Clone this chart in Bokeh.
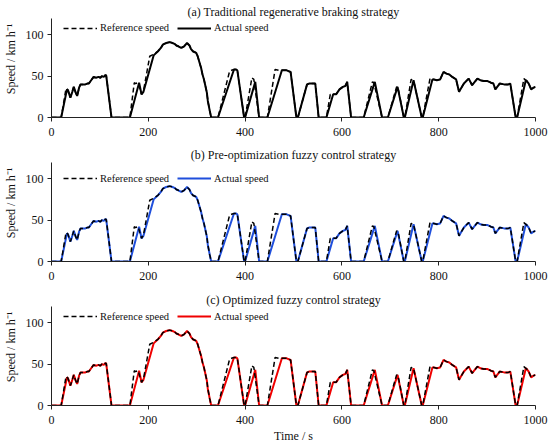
from bokeh.plotting import figure
from bokeh.layouts import column
from bokeh.models import Range1d, FixedTicker, Label, Legend, LegendItem
from bokeh.embed import file_html
from bokeh.resources import INLINE

# ---------------- data ----------------
ref_time = [0, 20, 30, 34, 39, 43, 46, 50, 53, 57, 60, 66, 70, 74, 77, 82, 87, 92, 97, 101, 104, 108, 111, 113, 124,
            162, 171, 174, 179, 186, 190, 203, 210, 220, 226, 230, 237, 244, 250, 254, 258, 262, 268, 274, 280, 285,
            288, 292, 299, 302, 305, 309, 312, 315, 318, 321, 323, 327, 330, 344, 368, 372, 377, 381, 384, 398, 400,
            414, 418, 429, 446, 462, 470, 486, 494, 506, 509, 528, 533, 545, 552, 568, 576, 588, 595, 602, 607, 611,
            619, 645, 663, 666, 683, 695, 713, 716, 728, 730, 743, 748, 765, 767, 782, 790, 796, 803, 810, 816, 822,
            828, 836, 842, 852, 862, 869, 880, 886, 893, 901, 908, 913, 917, 926, 935, 944, 948, 959, 962, 976, 982,
            986, 991, 996, 1000]
ref_speed = [0, 0, 35, 33, 24, 31, 37, 30, 26, 36, 40, 40, 40, 41, 41, 45, 49, 48, 49, 48, 50, 49, 51, 51, 0,
             0, 42, 41, 42, 28, 32, 74, 76, 80, 84, 88, 90, 91, 90, 89, 87, 86, 84, 86, 90, 87,
             83, 80, 78, 74, 68, 60, 52, 46, 38, 30, 20, 8, 0, 0, 56, 57, 58, 58, 57, 0, 0,
             48, 46, 0, 0, 58, 57, 57, 55, 0, 0, 40, 41, 41, 0, 0, 28, 28, 34, 37, 38, 43,
             0, 0, 43, 42, 0, 0, 37, 36, 0, 0, 46, 45, 0, 0, 47, 46, 45, 46, 55, 53, 52,
             49, 46, 31, 41, 47, 39, 47, 45, 44, 44, 42, 41, 34, 41, 40, 40, 41, 0, 0, 47, 44,
             41, 34, 36, 37]

act_time = [0, 20, 32, 34, 39, 43, 46, 50, 53, 57, 60, 66, 70, 74, 77, 82, 87, 92, 97, 101, 104, 108, 111, 113, 124,
            162, 181, 186, 190, 211, 220, 226, 230, 237, 244, 250, 254, 258, 262, 268, 274, 280, 285,
            288, 292, 299, 302, 305, 309, 312, 315, 318, 321, 323, 327, 330, 344, 377, 381, 384, 398, 400,
            421, 429, 446, 476, 486, 494, 506, 509, 528, 533, 545, 552, 568, 582, 588, 595, 602, 607, 611,
            619, 645, 668, 683, 695, 715, 728, 730, 748, 765, 767, 787, 790, 796, 803, 810, 816, 822,
            828, 836, 842, 852, 862, 869, 880, 886, 893, 901, 908, 913, 917, 926, 935, 944, 948, 959, 962, 980, 982,
            986, 991, 996, 1000]
act_speed = [0, 0, 34, 33, 24, 31, 37, 30, 26, 36, 40, 40, 40, 41, 41, 45, 49, 48, 49, 48, 50, 49, 51, 51, 0,
             0, 42, 28, 31, 75, 80, 84, 88, 90, 91, 90, 89, 87, 86, 84, 86, 90, 87,
             83, 80, 78, 74, 68, 60, 52, 46, 38, 30, 20, 8, 0, 0, 58, 58, 57, 0, 0,
             43, 0, 0, 57, 57, 55, 0, 0, 40, 41, 41, 0, 0, 28, 28, 34, 37, 38, 43,
             0, 0, 43, 0, 0, 37, 0, 0, 45, 0, 0, 46, 46, 45, 46, 55, 53, 52,
             49, 46, 31, 41, 47, 39, 47, 45, 44, 44, 42, 41, 34, 41, 40, 40, 41, 0, 0, 45, 44,
             41, 34, 36, 37]

panel_titles = ["(a) Traditional regenerative braking strategy",
                "(b) Pre-optimization fuzzy control strategy",
                "(c) Optimized fuzzy control strategy"]
actual_colors = ["#000000", "#1f4fdc", "#f00000"]
legend_labels = ["Reference speed", "Actual speed"]
x_ticks = [0, 200, 400, 600, 800, 1000]
y_ticks = [0, 50, 100]
x_label = "Time / s"
y_label = "Speed / km h\u207b\u00b9"

FONT = "Liberation Serif"
PX_PER_UNIT = 0.828
AXIS_COLOR = "#222222"
TEXT_COLOR = "#111111"


def make_panel(i, height, bottom, title_y, legend_v, show_xlabel):
    frame_h = height - bottom
    y_end = frame_h / PX_PER_UNIT
    p = figure(width=550, height=height, x_range=Range1d(0, 1000), y_range=Range1d(0, y_end),
               output_backend="svg", toolbar_location=None, title=None,
               min_border_top=0, min_border_left=49, min_border_right=15, min_border_bottom=bottom)
    p.outline_line_color = None
    p.grid.visible = False
    p.background_fill_color = "white"
    p.border_fill_color = "white"

    r_act = p.line(act_time, act_speed, line_color=actual_colors[i], line_width=2)
    r_ref = p.line(ref_time, ref_speed, line_color="black", line_width=1.5, line_dash="5 3")

    for ax in (p.xaxis[0], p.yaxis[0]):
        ax.axis_line_color = AXIS_COLOR
        ax.axis_line_width = 1
        ax.major_tick_line_color = AXIS_COLOR
        ax.major_tick_out = 4
        ax.major_tick_in = 0
        ax.minor_tick_line_color = None
        ax.major_label_text_font = FONT
        ax.major_label_text_font_size = "12px"
        ax.major_label_text_color = TEXT_COLOR
        ax.axis_label_text_font = FONT
        ax.axis_label_text_font_size = "12px"
        ax.axis_label_text_font_style = "normal"
        ax.axis_label_text_color = TEXT_COLOR

    p.xaxis.ticker = FixedTicker(ticks=x_ticks)
    p.xaxis.major_label_standoff = 6
    p.xaxis.bounds = (0, 1000)
    if show_xlabel:
        p.xaxis.axis_label = x_label
        p.xaxis.axis_label_standoff = 2

    p.yaxis.ticker = FixedTicker(ticks=y_ticks)
    p.yaxis.bounds = (0, 120)
    p.yaxis.major_label_standoff = 4
    p.yaxis.axis_label = y_label
    p.yaxis.axis_label_standoff = 5

    p.add_layout(Label(x=500, y=title_y, text=panel_titles[i], text_align="center", text_baseline="middle",
                       text_font=FONT, text_font_size="12px", text_color=TEXT_COLOR))

    legend = Legend(items=[LegendItem(label=legend_labels[0], renderers=[r_ref]),
                           LegendItem(label=legend_labels[1], renderers=[r_act])],
                    location=(12, legend_v * PX_PER_UNIT - 10), orientation="horizontal",
                    padding=0, margin=0, spacing=8, glyph_width=34, glyph_height=20,
                    label_height=20, label_standoff=3, label_text_font=FONT,
                    label_text_font_size="10.5px", label_text_color=TEXT_COLOR,
                    border_line_color=None, background_fill_alpha=0)
    p.add_layout(legend)
    return p


pa = make_panel(0, 144, 27, 128.0, 108.0, False)
pb = make_panel(1, 144, 27, 129.2, 100.0, False)
pc = make_panel(2, 159, 42, 128.0, 107.0, True)

layout = column(pa, pb, pc)
open("out.html", "w").write(file_html(layout, INLINE))
